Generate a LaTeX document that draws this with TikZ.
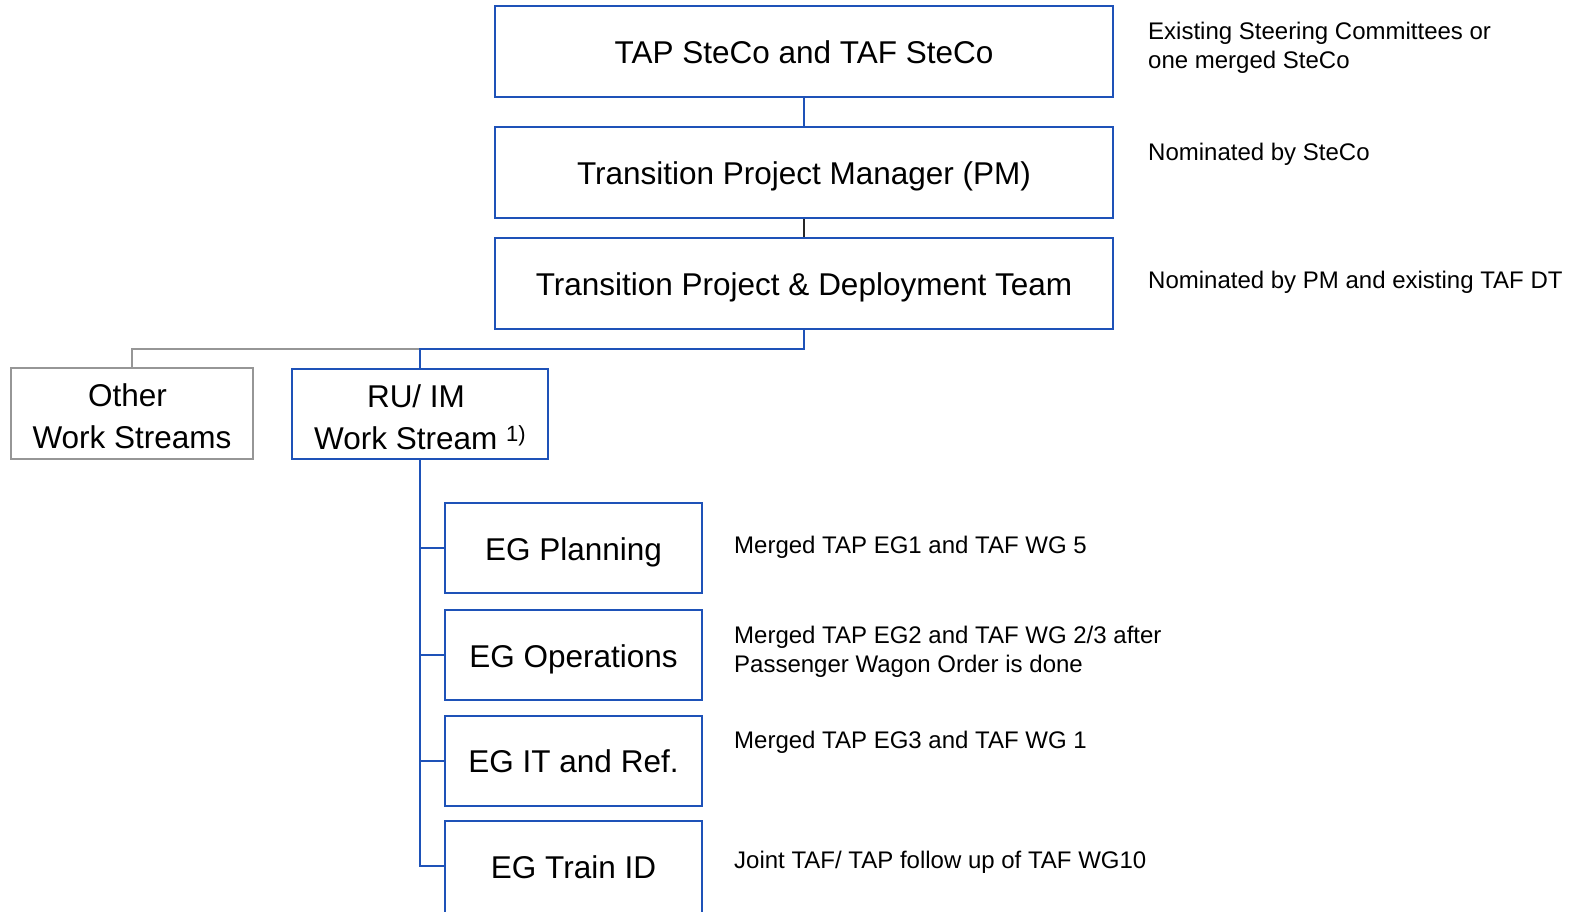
\documentclass[tikz,border=0pt]{standalone}
\usepackage{fontspec}
\setmainfont{Liberation Sans}
\definecolor{boxblue}{RGB}{30,82,184}
\definecolor{boxgray}{RGB}{150,150,150}
\newcommand\bxstrut{\rule[-7pt]{0pt}{38.6pt}}
\newcommand\bxstruttop{\rule[-7pt]{0pt}{42.6pt}}
\newcommand\bxstrutlow{\rule[-34pt]{0pt}{72.6pt}}
\tikzset{
  x=1pt, y=-1pt,
  bluebox/.style={draw=boxblue, line width=2pt, inner sep=0pt, align=center,
    font=\fontsize{31.5}{42}\selectfont, anchor=center},
  graybox/.style={bluebox, draw=boxgray},
  note/.style={anchor=west, inner sep=0pt, align=left, font=\fontsize{24}{29}\selectfont},
  blueline/.style={draw=boxblue, line width=2pt},
  grayline/.style={draw=boxgray, line width=2pt},
  blackline/.style={draw=black!85, line width=1.6pt},
}
\begin{document}
\begin{tikzpicture}
\useasboundingbox (0,0) rectangle (1571,911);
\clip (0,0) rectangle (1571,911);
% top chain
\node[bluebox, minimum width=618pt, minimum height=91pt] (steco) at (804,51.5) {\bxstrut TAP SteCo and TAF SteCo};
\node[bluebox, minimum width=618pt, minimum height=91pt] (pm) at (804,172.5) {\bxstrut Transition Project Manager (PM)};
\node[bluebox, minimum width=618pt, minimum height=91pt] (team) at (804,283.5) {\bxstrut Transition Project \& Deployment Team};
% work streams
\node[graybox, minimum width=242pt, minimum height=91pt] (other) at (132,413.5) {\bxstruttop Other\hspace*{9pt}\\\bxstrut Work Streams};
\node[bluebox, minimum width=256pt, minimum height=90pt] (ru) at (420,414) {\bxstruttop RU/ IM\hspace*{8pt}\\\bxstrut Work Stream {\fontsize{22}{22}\selectfont\raisebox{8pt}{1)}}};
% expert groups
\node[bluebox, minimum width=257pt, minimum height=90pt] (egp) at (573.5,548) {\bxstrut EG Planning};
\node[bluebox, minimum width=257pt, minimum height=90pt] (ego) at (573.5,655) {\bxstrut EG Operations};
\node[bluebox, minimum width=257pt, minimum height=90pt] (egi) at (573.5,760.5) {\bxstrut EG IT and Ref.};
\node[bluebox, minimum width=257pt, minimum height=110pt] (egt) at (573.5,876) {\bxstrutlow EG Train ID};
% notes
\node[note] (n1) at (1148,47.5) {Existing Steering Committees or\\one merged SteCo};
\node[note] (n2) at (1148,154) {Nominated by SteCo};
\node[note] (n3) at (1148,282) {Nominated by PM and existing TAF DT};
\node[note] (n4) at (734,547) {Merged TAP EG1 and TAF WG 5};
\node[note] (n5) at (734,651.5) {Merged TAP EG2 and TAF WG 2/3 after\\Passenger Wagon Order is done};
\node[note] (n6) at (734,742) {Merged TAP EG3 and TAF WG 1};
\node[note] (n7) at (734,862) {Joint TAF/ TAP follow up of TAF WG10};
% connectors
\coordinate (bus) at (420,349);
\coordinate (tj) at (420,866);
\draw[blueline] (steco.south) -- (pm.north);
\draw[blackline] (pm.south) -- (team.north);
\draw[grayline] (bus) -| (other.north);
\draw[blueline] (team.south) |- (bus) -- (ru.north);
\draw[blueline] (ru.south) -- (tj) -- (tj -| egt.west);
\draw[blueline] (ru.south |- egp.west) -- (egp.west);
\draw[blueline] (ru.south |- ego.west) -- (ego.west);
\draw[blueline] (ru.south |- egi.west) -- (egi.west);
\end{tikzpicture}
\end{document}
